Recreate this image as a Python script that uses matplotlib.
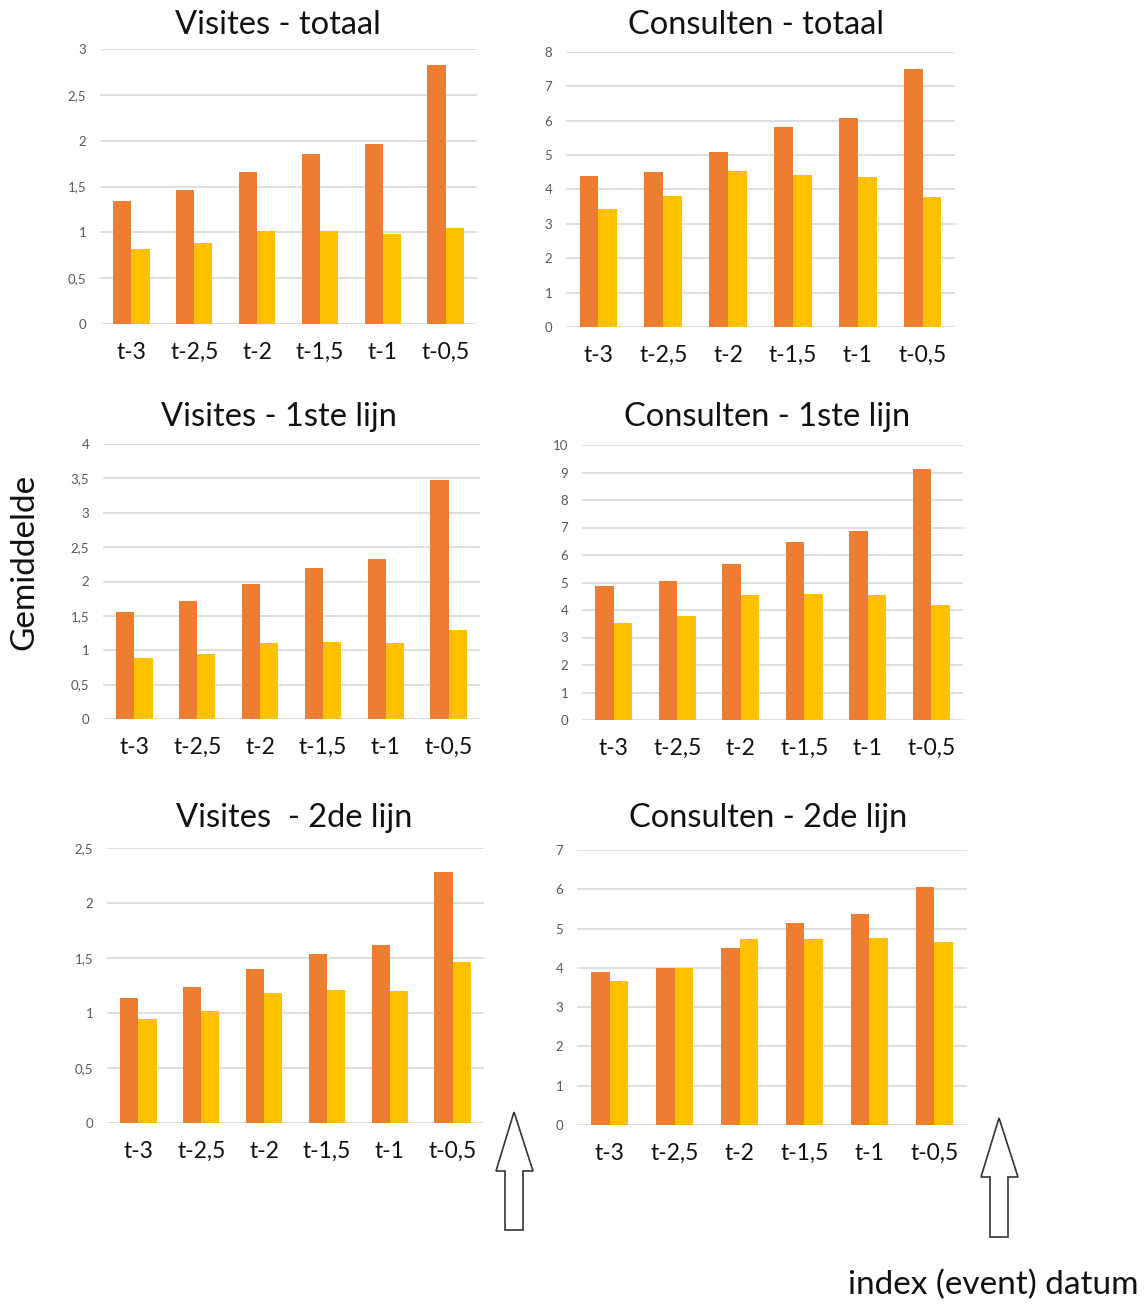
import matplotlib
matplotlib.use("Agg")
import matplotlib.pyplot as plt
from matplotlib.patches import Polygon
from matplotlib.ticker import FuncFormatter, MultipleLocator
import numpy as np

plt.rcParams['font.family'] = ['Lato', 'DejaVu Sans']

categories = ["t-3", "t-2,5", "t-2", "t-1,5", "t-1", "t-0,5"]

# Visites - totaal
vis_tot_orange = [1.34, 1.46, 1.66, 1.85, 1.96, 2.83]
vis_tot_yellow = [0.82, 0.88, 1.02, 1.02, 0.98, 1.05]
# Consulten - totaal
con_tot_orange = [4.39, 4.50, 5.08, 5.82, 6.08, 7.50]
con_tot_yellow = [3.43, 3.82, 4.54, 4.43, 4.35, 3.78]
# Visites - 1ste lijn
vis_1_orange = [1.56, 1.71, 1.96, 2.20, 2.33, 3.47]
vis_1_yellow = [0.89, 0.95, 1.10, 1.12, 1.10, 1.29]
# Consulten - 1ste lijn
con_1_orange = [4.87, 5.05, 5.69, 6.49, 6.89, 9.13]
con_1_yellow = [3.51, 3.80, 4.53, 4.58, 4.53, 4.19]
# Visites - 2de lijn
vis_2_orange = [1.14, 1.24, 1.40, 1.54, 1.62, 2.28]
vis_2_yellow = [0.95, 1.02, 1.18, 1.21, 1.20, 1.46]
# Consulten - 2de lijn
con_2_orange = [3.90, 4.00, 4.50, 5.14, 5.38, 6.05]
con_2_yellow = [3.67, 4.00, 4.74, 4.74, 4.77, 4.67]

titles = ["Visites - totaal", "Consulten - totaal",
          "Visites - 1ste lijn", "Consulten - 1ste lijn",
          "Visites  - 2de lijn", "Consulten - 2de lijn"]
ymax = [3, 8, 4, 10, 2.5, 7]
ystep = [0.5, 1, 0.5, 1, 0.5, 1]

W, H = 1144, 1304
fig = plt.figure(figsize=(W / 100, H / 100), dpi=100)

# pixel boxes: (left, right, top, bottom)
boxes = [(100, 477, 49, 324), (566, 955, 52, 327),
         (103, 480, 444, 719), (582, 963, 445, 720),
         (107, 484, 848, 1123), (577, 967, 850, 1125)]
title_pos = [(278, 25), (756, 25), (279, 417), (767, 417), (294, 818), (768, 818)]

data = [(vis_tot_orange, vis_tot_yellow), (con_tot_orange, con_tot_yellow),
        (vis_1_orange, vis_1_yellow), (con_1_orange, con_1_yellow),
        (vis_2_orange, vis_2_yellow), (con_2_orange, con_2_yellow)]

ORANGE = "#ED7D31"
YELLOW = "#FFC000"
GRID = "#D9D9D9"
TICK = "#595959"

def fmt(v, pos):
    s = ("%g" % v).replace(".", ",")
    return s

x = np.arange(len(categories))
w = 0.29
for i, ((l, r, t, b), (o, yv)) in enumerate(zip(boxes, data)):
    ax = fig.add_axes([l / W, 1 - b / H, (r - l) / W, (b - t) / H])
    ax.bar(x - w / 2, o, width=w, color=ORANGE, zorder=3)
    ax.bar(x + w / 2, yv, width=w, color=YELLOW, zorder=3)
    ax.set_xlim(-0.5, len(categories) - 0.5)
    ax.set_ylim(0, ymax[i])
    ax.yaxis.set_major_locator(MultipleLocator(ystep[i]))
    ax.yaxis.set_major_formatter(FuncFormatter(fmt))
    ax.set_xticks(x)
    ax.set_xticklabels(categories, fontsize=16.5, color="#111111")
    ax.tick_params(axis='x', length=0, pad=13)
    ax.tick_params(axis='y', length=0, pad=10, labelsize=9.5, labelcolor=TICK)
    for sp in ax.spines.values():
        sp.set_visible(False)
    ax.grid(axis='y', color=GRID, linewidth=1.2, zorder=0)
    ax.set_axisbelow(True)
    tx, ty = title_pos[i]
    fig.text(tx / W, 1 - ty / H, titles[i], fontsize=23.5, ha='center', va='center', color="#111111")

fig.text(24 / W, 1 - 562 / H, "Gemiddelde", rotation=90, fontsize=24, ha='center', va='center', color="#111111")
fig.text(1138 / W, 1 - 1285 / H, "index (event) datum", fontsize=24, ha='right', va='center', color="#111111")

def arrow(tip, head_y, head_l, head_r, sh_l, sh_r, bottom):
    pts = [(tip[0], tip[1]), (head_r, head_y), (sh_r, head_y), (sh_r, bottom),
           (sh_l, bottom), (sh_l, head_y), (head_l, head_y)]
    pts = [(px / W, 1 - py / H) for px, py in pts]
    fig.patches.append(Polygon(pts, closed=True, facecolor="white", edgecolor="#333333",
                               linewidth=1.2, transform=fig.transFigure, figure=fig))

arrow((514, 1112), 1171, 496, 533, 505, 523, 1230)
arrow((999, 1118), 1177, 981, 1018, 990, 1008, 1237)

fig.savefig("out.png", dpi=100, facecolor="white")
